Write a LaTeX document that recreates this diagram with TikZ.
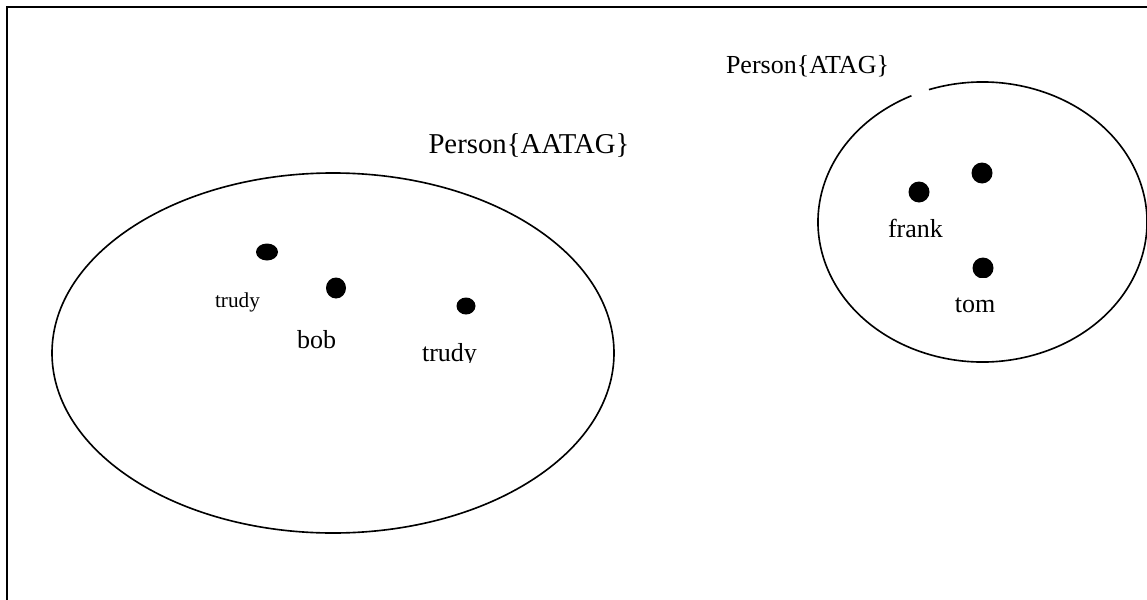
\documentclass[tikz,border=0pt]{standalone}
\usepackage{fontspec}
\setmainfont{Liberation Serif}
\usetikzlibrary{shapes.geometric}

\begin{document}
\begin{tikzpicture}[x=0.4pt,y=-0.4pt,
  blob/.style={fill=black,ellipse,inner sep=0pt},
  lbl/.style={anchor=base,inner sep=0pt,font=\fontsize{10.4}{12}\selectfont},
  smalllbl/.style={lbl,font=\fontsize{8.5}{10}\selectfont},
  setring/.style={draw,ellipse,line width=0.65pt,inner sep=0pt}]

\clip (0,0) rectangle (1147,600);
\draw[line width=0.8pt] (7,7) rectangle (1170,620);

\node[setring,minimum width=224.8pt,minimum height=144pt](leftset) at (333,353){};
\draw[line width=0.65pt] ([shift={(251:164.5 and 140)}]982.5,222) arc[start angle=251,end angle=604.4,x radius=164.5,y radius=140];

\node[lbl,font=\fontsize{11.5}{13}\selectfont](aatag) at (529,153){Person\{AATAG\}};
\node[lbl](atag) at (807.5,74){Person\{ATAG\}};

\node[blob,minimum width=8.8pt,minimum height=6.8pt](trudyA) at (267,252){};
\node[blob,minimum width=8pt,minimum height=8.4pt](bob) at (336,288){};
\node[blob,minimum width=7.6pt,minimum height=6.8pt](trudyB) at (466,306){};
\node[blob,minimum size=8.4pt](frank) at (919,192){};
\node[blob,minimum size=8.4pt](other) at (982,173){};
\begin{scope}
\clip (950,240) rectangle (1020,277);
\node[blob,minimum size=8.4pt](tom) at (983,268){};
\end{scope}

\node[smalllbl](trudyAlbl) at (237.5,307){trudy};
\node[lbl](boblbl) at (316.5,348){bob};
\begin{scope}
\clip (400,320) rectangle (500,362.5);
\node[lbl](trudyBlbl) at (449.5,361){trudy};
\end{scope}
\node[lbl](franklbl) at (915.5,237){frank};
\node[lbl](tomlbl) at (975,312){tom};

\end{tikzpicture}
\end{document}
